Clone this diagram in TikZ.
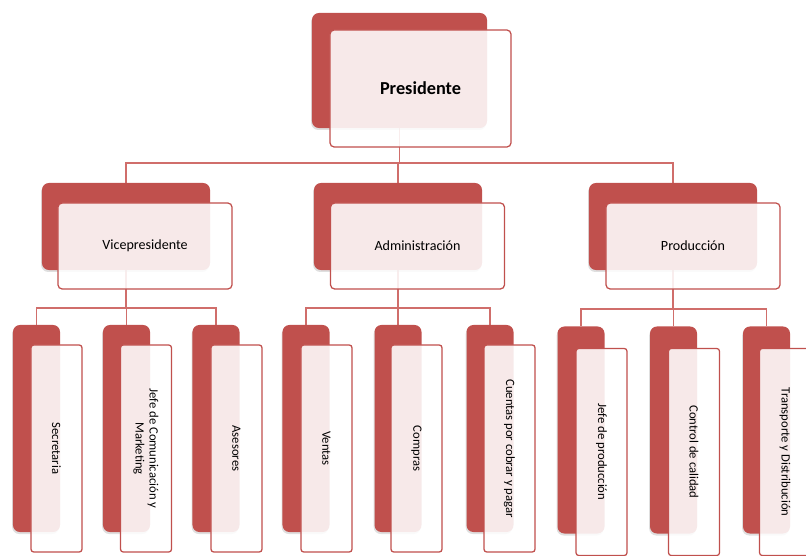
\documentclass[tikz,border=0pt]{standalone}
\usepackage{fontspec}
\setmainfont{Carlito}
\definecolor{chartred}{RGB}{192, 80, 77}
\definecolor{linkred}{RGB}{208, 110, 107}
\usetikzlibrary{positioning, backgrounds, shadows}
\tikzset{
    backbox/.style={rectangle, rounded corners=5pt, fill=chartred, inner sep=0pt,
                    drop shadow={shadow xshift=-0.6pt, shadow yshift=-1.4pt, opacity=0.25}},
    frontbox/.style={rectangle, rounded corners=3pt, draw=chartred, line width=0.9pt,
                     fill=white, fill opacity=0.88, text opacity=1, inner sep=0pt, align=center},
    topback/.style={backbox, minimum width=4.375cm, minimum height=2.875cm},
    topfront/.style={frontbox, minimum width=4.525cm, minimum height=2.925cm, font=\fontsize{13}{15}\selectfont\bfseries},
    midback/.style={backbox, minimum width=4.2cm, minimum height=2.175cm},
    midfront/.style={frontbox, minimum width=4.35cm, minimum height=2.15cm, font=\fontsize{10}{12}\selectfont},
    leafback/.style={backbox, minimum width=1.175cm, minimum height=5.175cm},
    leaffront/.style={frontbox, rounded corners=2pt, minimum width=5.175cm, minimum height=1.275cm,
                      rotate=-90, font=\fontsize{9}{10}\selectfont},
    link/.style={draw=linkred, line width=1.2pt},
}

\begin{document}
\begin{tikzpicture}[x=0.025cm, y=-0.025cm]
    \useasboundingbox (0,0) rectangle (806,556);

    % top level
    \node[topback] (presback) at (399.5, 70.5) {};
    \node[topfront] (presfront) at (420.5, 88.5) {Presidente};

    % second level
    \node[midback] (vpback) at (126, 226.5) {};
    \node[midfront] (vpfront) at (145, 246) {Vicepresidente};
    \node[midback] (admback) at (398, 226.5) {};
    \node[midfront] (admfront) at (417.5, 246) {Administración};
    \node[midback] (prodback) at (673, 226.5) {};
    \node[midfront] (prodfront) at (693, 246) {Producción};

    % leaves under Vicepresidente
    \node[leafback] (secback) at (36.5, 428.5) {};
    \node[leaffront] (secfront) at (56.5, 448.5) {Secretaria};
    \node[leafback] (comback) at (126.5, 428.5) {};
    \node[leaffront] (comfront) at (146, 448.5) {Jefe de Comunicación y\\Marketing};
    \node[leafback] (asesback) at (216, 428.5) {};
    \node[leaffront] (asesfront) at (236.5, 448.5) {Asesores};

    % leaves under Administración
    \node[leafback] (ventback) at (306, 428.5) {};
    \node[leaffront] (ventfront) at (326.5, 448.5) {Ventas};
    \node[leafback] (compback) at (398, 428.5) {};
    \node[leaffront] (compfront) at (416.5, 448.5) {Compras};
    \node[leafback] (cuentback) at (490, 428.5) {};
    \node[leaffront] (cuentfront) at (509.5, 448.5) {Cuentas por cobrar y pagar};

    % leaves under Producción
    \node[leafback] (jefeback) at (581, 430) {};
    \node[leaffront] (jefefront) at (601.5, 452) {Jefe de producción};
    \node[leafback] (calback) at (673.5, 430) {};
    \node[leaffront] (calfront) at (694, 452) {Control de calidad};
    \node[leafback] (transback) at (766.5, 430) {};
    \node[leaffront] (transfront) at (785, 452) {Transporte y Distribución};

    \begin{pgfonlayer}{background}
        \draw[link] (vpback.north) -- ++(0,-20) -| (presback.south);
        \draw[link] (admback.north) -- ++(0,-20) -| (presback.south);
        \draw[link] (prodback.north) -- ++(0,-20) -| (presback.south);

        \draw[link] (secback.north) -- ++(0,-17) -| (vpback.south);
        \draw[link] (comback.north) -- ++(0,-17) -| (vpback.south);
        \draw[link] (asesback.north) -- ++(0,-17) -| (vpback.south);

        \draw[link] (ventback.north) -- ++(0,-17) -| (admback.south);
        \draw[link] (compback.north) -- ++(0,-17) -| (admback.south);
        \draw[link] (cuentback.north) -- ++(0,-17) -| (admback.south);

        \draw[link] (jefeback.north) -- ++(0,-17) -| (prodback.south);
        \draw[link] (calback.north) -- ++(0,-17) -| (prodback.south);
        \draw[link] (transback.north) -- ++(0,-17) -| (prodback.south);
    \end{pgfonlayer}
\end{tikzpicture}
\end{document}
